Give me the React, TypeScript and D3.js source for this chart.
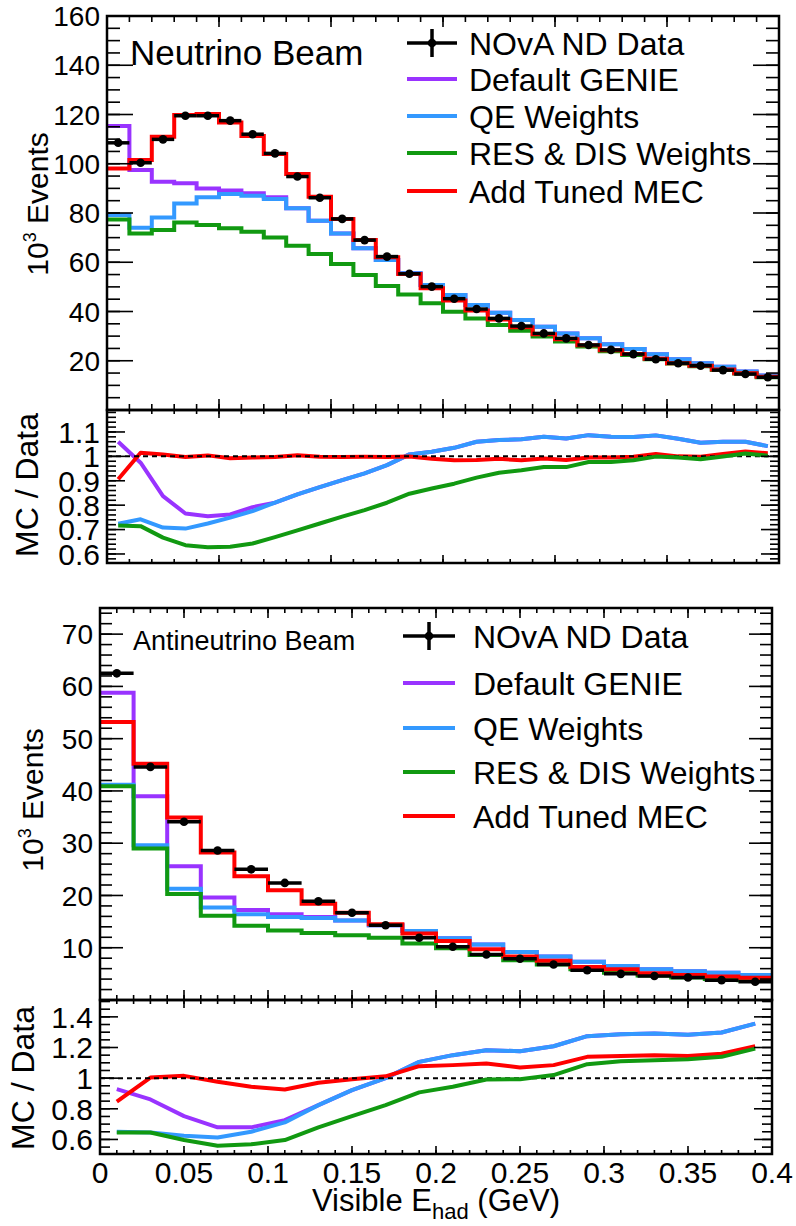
import React from "react";
import * as d3 from "d3";

const FONT = "'Liberation Sans', Arial, Helvetica, sans-serif";

// ---------- binning ----------
const X_DOMAIN: [number, number] = [0, 0.4];
const NU_NBINS = 30;
const ANU_NBINS = 20;

// ---------- Neutrino beam (10^3 events), 30 bins ----------
const nuData = [108.5, 100.4, 109.9, 119.5, 119.5, 117.5, 112.0, 104.2, 94.8, 86.2, 77.6, 69.0, 62.3, 55.3, 50.1, 45.2, 41.0, 37.2, 34.1, 31.1, 29.1, 26.4, 24.4, 22.7, 20.6, 19.0, 18.0, 16.2, 14.6, 13.3];
const nuGenie = [115.3, 97.5, 92.7, 92.1, 90.0, 89.1, 88.0, 86.4, 81.9, 76.9, 71.7, 65.7, 60.9, 55.5, 50.8, 46.7, 42.6, 39.5, 36.5, 33.8, 31.1, 29.1, 26.7, 24.8, 22.6, 20.6, 19.0, 17.6, 15.6, 14.0];
const nuQE = [79.2, 74.0, 78.2, 83.9, 86.4, 87.7, 87.0, 85.7, 81.9, 76.9, 71.7, 65.7, 60.9, 55.5, 50.8, 46.7, 42.6, 39.5, 36.5, 33.8, 31.1, 29.1, 26.7, 24.8, 22.6, 20.6, 19.0, 17.6, 15.6, 14.0];
const nuResDis = [77.4, 71.7, 73.1, 76.1, 75.1, 73.8, 72.4, 70.1, 66.7, 63.3, 59.3, 54.8, 50.4, 46.9, 43.3, 39.9, 37.2, 34.5, 32.2, 29.8, 27.8, 25.8, 23.9, 22.3, 20.6, 18.9, 17.8, 16.2, 14.8, 13.3];
const nuMEC = [98.1, 101.5, 111.0, 119.8, 120.2, 116.8, 111.3, 104.0, 95.8, 86.6, 77.6, 69.0, 62.0, 55.2, 49.4, 44.5, 40.4, 36.8, 33.6, 30.8, 28.7, 26.3, 24.3, 22.7, 20.8, 19.0, 18.0, 16.4, 14.9, 13.5];

// ---------- Neutrino beam MC / Data ----------
const nuRatioGenie = [1.06, 0.974, 0.837, 0.766, 0.755, 0.762, 0.792, 0.81, 0.844, 0.874, 0.903, 0.93, 0.964, 1.008, 1.019, 1.035, 1.06, 1.067, 1.07, 1.08, 1.073, 1.087, 1.08, 1.079, 1.086, 1.072, 1.056, 1.06, 1.06, 1.042];
const nuRatioQE = [0.724, 0.742, 0.708, 0.704, 0.725, 0.749, 0.776, 0.81, 0.844, 0.874, 0.903, 0.93, 0.964, 1.008, 1.019, 1.035, 1.06, 1.067, 1.07, 1.08, 1.073, 1.087, 1.08, 1.079, 1.086, 1.072, 1.056, 1.06, 1.06, 1.042];
const nuRatioResDis = [0.717, 0.714, 0.667, 0.636, 0.628, 0.63, 0.643, 0.669, 0.697, 0.725, 0.753, 0.78, 0.81, 0.847, 0.868, 0.888, 0.913, 0.933, 0.943, 0.956, 0.956, 0.977, 0.977, 0.984, 0.999, 0.995, 0.988, 0.999, 1.012, 1.003];
const nuRatioMEC = [0.906, 1.015, 1.008, 0.997, 1.004, 0.992, 0.995, 0.997, 1.005, 0.998, 0.997, 0.998, 0.997, 0.999, 0.99, 0.984, 0.985, 0.99, 0.984, 0.991, 0.985, 0.995, 0.995, 0.998, 1.01, 1.0, 0.998, 1.01, 1.02, 1.013];

// ---------- Antineutrino beam (10^3 events), 20 bins ----------
const anuData = [62.5, 44.6, 34.1, 28.6, 25.0, 22.4, 18.9, 16.7, 14.3, 11.9, 10.2, 8.7, 7.9, 6.8, 5.7, 5.0, 4.6, 4.3, 3.8, 3.5];
const anuGenie = [58.8, 39.0, 25.6, 19.6, 17.2, 16.4, 15.9, 15.2, 14.3, 13.2, 11.8, 10.6, 9.2, 8.3, 7.3, 6.5, 5.9, 5.5, 5.2, 4.8];
const anuQE = [41.2, 29.6, 21.3, 17.7, 16.4, 15.9, 15.7, 15.2, 14.3, 13.2, 11.8, 10.6, 9.2, 8.3, 7.3, 6.5, 5.9, 5.5, 5.2, 4.8];
const anuResDis = [40.9, 29.0, 20.3, 16.1, 14.2, 13.3, 12.8, 12.4, 11.9, 10.8, 9.9, 8.6, 7.6, 6.8, 5.9, 5.2, 4.7, 4.3, 4.0, 3.8];
const anuMEC = [53.2, 45.2, 34.9, 28.2, 23.7, 21.0, 18.4, 16.7, 14.5, 12.7, 11.3, 9.7, 8.3, 7.5, 6.3, 5.9, 5.1, 4.8, 4.5, 4.25];

// ---------- Antineutrino beam MC / Data ----------
const anuRatioGenie = [0.928, 0.861, 0.752, 0.679, 0.679, 0.726, 0.824, 0.922, 1.0, 1.106, 1.15, 1.182, 1.176, 1.208, 1.274, 1.287, 1.291, 1.284, 1.298, 1.356];
const anuRatioQE = [0.65, 0.646, 0.624, 0.613, 0.65, 0.711, 0.824, 0.922, 1.0, 1.106, 1.15, 1.182, 1.176, 1.208, 1.274, 1.287, 1.291, 1.284, 1.298, 1.356];
const anuRatioResDis = [0.645, 0.645, 0.596, 0.559, 0.568, 0.596, 0.679, 0.752, 0.824, 0.907, 0.944, 0.991, 0.993, 1.02, 1.091, 1.11, 1.117, 1.124, 1.139, 1.193];
const anuRatioMEC = [0.846, 1.004, 1.015, 0.976, 0.944, 0.926, 0.97, 0.993, 1.012, 1.078, 1.085, 1.095, 1.07, 1.085, 1.139, 1.145, 1.15, 1.145, 1.16, 1.208];

// ---------- labels ----------
const legendLabels = ["NOvA ND Data", "Default GENIE", "QE Weights", "RES & DIS Weights", "Add Tuned MEC"];
const seriesKeys = ["data", "genie", "qe", "resdis", "mec"];
const COLORS: Record<string, string> = {
  data: "#000000",
  genie: "#9933ff",
  qe: "#3399ff",
  resdis: "#119911",
  mec: "#ff0000",
};

function tickValues(d0: number, d1: number, step: number) {
  const out: number[] = [];
  const k0 = Math.ceil(d0 / step - 1e-6);
  const k1 = Math.floor(d1 / step + 1e-6);
  for (let k = k0; k <= k1; k++) out.push(+(k * step).toFixed(6));
  return out;
}

const fmt = (v: number) => String(+v.toFixed(3));

type PanelSpec = {
  id: string;
  left: number; right: number; top: number; bottom: number;
  yDomain: [number, number];
  yMajor: number; yMinor: number; yMajLen: number; yMinLen: number;
  xMajor: number; xMinor: number; xMajLen: number; xMinLen: number;
  yLabels: number[];
  yLabelSize: number;
  xLabels: boolean;
};

function Axes({ s }: { s: PanelSpec }) {
  const xs = d3.scaleLinear().domain(X_DOMAIN).range([s.left, s.right]);
  const ys = d3.scaleLinear().domain(s.yDomain).range([s.bottom, s.top]);
  const xMin = tickValues(X_DOMAIN[0], X_DOMAIN[1], s.xMinor);
  const xMaj = tickValues(X_DOMAIN[0], X_DOMAIN[1], s.xMajor);
  const yMin = tickValues(s.yDomain[0], s.yDomain[1], s.yMinor);
  const yMaj = tickValues(s.yDomain[0], s.yDomain[1], s.yMajor);
  const sw = 1.6;
  return (
    <g>
      {xMin.map((v, i) => (
        <g key={"xm" + i}>
          <line x1={xs(v)} x2={xs(v)} y1={s.bottom} y2={s.bottom - s.xMinLen} stroke="#000" strokeWidth={sw} />
          <line x1={xs(v)} x2={xs(v)} y1={s.top} y2={s.top + s.xMinLen} stroke="#000" strokeWidth={sw} />
        </g>
      ))}
      {xMaj.map((v, i) => (
        <g key={"xM" + i}>
          <line x1={xs(v)} x2={xs(v)} y1={s.bottom} y2={s.bottom - s.xMajLen} stroke="#000" strokeWidth={sw} />
          <line x1={xs(v)} x2={xs(v)} y1={s.top} y2={s.top + s.xMajLen} stroke="#000" strokeWidth={sw} />
        </g>
      ))}
      {yMin.map((v, i) => (
        <g key={"ym" + i}>
          <line x1={s.left} x2={s.left + s.yMinLen} y1={ys(v)} y2={ys(v)} stroke="#000" strokeWidth={sw} />
          <line x1={s.right} x2={s.right - s.yMinLen} y1={ys(v)} y2={ys(v)} stroke="#000" strokeWidth={sw} />
        </g>
      ))}
      {yMaj.map((v, i) => (
        <g key={"yM" + i}>
          <line x1={s.left} x2={s.left + s.yMajLen} y1={ys(v)} y2={ys(v)} stroke="#000" strokeWidth={sw} />
          <line x1={s.right} x2={s.right - s.yMajLen} y1={ys(v)} y2={ys(v)} stroke="#000" strokeWidth={sw} />
        </g>
      ))}
      {s.yLabels.map((v, i) => (
        <text key={"yl" + i} x={s.left - 7} y={ys(v)} dy="0.36em" textAnchor="end" fontSize={s.yLabelSize} fontFamily={FONT} fill="#000">
          {fmt(v)}
        </text>
      ))}
      {s.xLabels &&
        tickValues(X_DOMAIN[0], X_DOMAIN[1], 0.05).map((v, i) => (
          <text key={"xl" + i} x={xs(v)} y={s.bottom + 29} textAnchor="middle" fontSize={30} fontFamily={FONT} fill="#000">
            {fmt(v)}
          </text>
        ))}
      <rect x={s.left} y={s.top} width={s.right - s.left} height={s.bottom - s.top} fill="none" stroke="#000" strokeWidth={2.5} />
    </g>
  );
}

function HistPanel({ s, nbins, series, data }: { s: PanelSpec; nbins: number; series: { key: string; values: number[] }[]; data: number[] }) {
  const xs = d3.scaleLinear().domain(X_DOMAIN).range([s.left, s.right]);
  const ys = d3.scaleLinear().domain(s.yDomain).range([s.bottom, s.top]);
  const width = (X_DOMAIN[1] - X_DOMAIN[0]) / nbins;
  const edges = d3.range(nbins + 1).map((i) => X_DOMAIN[0] + i * width);
  const step = d3
    .line<[number, number]>()
    .x((d) => xs(d[0]))
    .y((d) => ys(d[1]))
    .curve(d3.curveStepAfter);
  const mkPts = (vals: number[]) => {
    const pts: [number, number][] = vals.map((v, i) => [edges[i], v]);
    pts.push([edges[nbins], vals[nbins - 1]]);
    return pts;
  };
  return (
    <g>
      <defs>
        <clipPath id={"clip-" + s.id}>
          <rect x={s.left} y={s.top} width={s.right - s.left} height={s.bottom - s.top} />
        </clipPath>
      </defs>
      <g clipPath={`url(#clip-${s.id})`}>
        {series.map((sr) => (
          <path key={sr.key} d={step(mkPts(sr.values)) || ""} fill="none" stroke={COLORS[sr.key]} strokeWidth={4} />
        ))}
        {data.map((v, i) => (
          <g key={"d" + i}>
            <line x1={xs(edges[i])} x2={xs(edges[i + 1])} y1={ys(v)} y2={ys(v)} stroke="#000" strokeWidth={3.5} />
            <circle cx={xs(edges[i] + width / 2)} cy={ys(v)} r={4.3} fill="#000" />
          </g>
        ))}
      </g>
      <Axes s={s} />
    </g>
  );
}

function RatioPanel({ s, nbins, series }: { s: PanelSpec; nbins: number; series: { key: string; values: number[] }[] }) {
  const xs = d3.scaleLinear().domain(X_DOMAIN).range([s.left, s.right]);
  const ys = d3.scaleLinear().domain(s.yDomain).range([s.bottom, s.top]);
  const width = (X_DOMAIN[1] - X_DOMAIN[0]) / nbins;
  const line = d3
    .line<number>()
    .x((_, i) => xs(X_DOMAIN[0] + (i + 0.5) * width))
    .y((d) => ys(d));
  const byKey = (k: string) => series.find((sr) => sr.key === k)!;
  const draw = (k: string) => (
    <path key={k} d={line(byKey(k).values) || ""} fill="none" stroke={COLORS[k]} strokeWidth={4} strokeLinejoin="round" />
  );
  return (
    <g>
      <defs>
        <clipPath id={"clip-" + s.id}>
          <rect x={s.left} y={s.top} width={s.right - s.left} height={s.bottom - s.top} />
        </clipPath>
      </defs>
      <g clipPath={`url(#clip-${s.id})`}>
        {draw("genie")}
        {draw("qe")}
        {draw("mec")}
        <line x1={s.left} x2={s.right} y1={ys(1)} y2={ys(1)} stroke="#000" strokeWidth={2} strokeDasharray="5 4" />
        {draw("resdis")}
      </g>
      <Axes s={s} />
    </g>
  );
}

function Legend({ x0, x1, tx, rows, fontSize }: { x0: number; x1: number; tx: number; rows: number[]; fontSize: number }) {
  return (
    <g>
      {legendLabels.map((lab, i) => {
        const cy = rows[i];
        const key = seriesKeys[i];
        return (
          <g key={lab}>
            {key === "data" ? (
              <g>
                <line x1={x0} x2={x1} y1={cy} y2={cy} stroke="#000" strokeWidth={3.5} />
                <line x1={(x0 + x1) / 2} x2={(x0 + x1) / 2} y1={cy - 14} y2={cy + 14} stroke="#000" strokeWidth={3.5} />
                <circle cx={(x0 + x1) / 2} cy={cy} r={4.3} fill="#000" />
              </g>
            ) : (
              <line x1={x0} x2={x1} y1={cy} y2={cy} stroke={COLORS[key]} strokeWidth={4} />
            )}
            <text x={tx} y={cy} dy="0.36em" fontSize={fontSize} fontFamily={FONT} fill="#000">
              {lab}
            </text>
          </g>
        );
      })}
    </g>
  );
}

function YTitle({ x, y, size, children }: { x: number; y: number; size: number; children: React.ReactNode }) {
  return (
    <text transform={`translate(${x},${y}) rotate(-90)`} textAnchor="middle" fontSize={size} fontFamily={FONT} fill="#000">
      {children}
    </text>
  );
}

export default function App() {
  const nuMain: PanelSpec = {
    id: "numain", left: 107, right: 779, top: 16, bottom: 410,
    yDomain: [0, 160], yMajor: 20, yMinor: 5, yMajLen: 26, yMinLen: 13,
    xMajor: 0.4 / 6, xMinor: 0.4 / 30, xMajLen: 11, xMinLen: 6,
    yLabels: [20, 40, 60, 80, 100, 120, 140, 160], yLabelSize: 28, xLabels: false,
  };
  const nuRatio: PanelSpec = {
    id: "nuratio", left: 107, right: 779, top: 410, bottom: 563,
    yDomain: [0.563, 1.19], yMajor: 0.1, yMinor: 0.02, yMajLen: 18, yMinLen: 9,
    xMajor: 0.4 / 6, xMinor: 0.4 / 30, xMajLen: 8, xMinLen: 4,
    yLabels: [0.6, 0.7, 0.8, 0.9, 1, 1.1], yLabelSize: 30, xLabels: false,
  };
  const anuMain: PanelSpec = {
    id: "anumain", left: 100, right: 772, top: 608, bottom: 1000,
    yDomain: [0, 75], yMajor: 10, yMinor: 2, yMajLen: 23, yMinLen: 12,
    xMajor: 0.05, xMinor: 0.01, xMajLen: 10, xMinLen: 5,
    yLabels: [10, 20, 30, 40, 50, 60, 70], yLabelSize: 28, xLabels: false,
  };
  const anuRatio: PanelSpec = {
    id: "anuratio", left: 100, right: 772, top: 1000, bottom: 1154,
    yDomain: [0.505, 1.51], yMajor: 0.2, yMinor: 0.05, yMajLen: 18, yMinLen: 10,
    xMajor: 0.05, xMinor: 0.01, xMajLen: 8, xMinLen: 4,
    yLabels: [0.6, 0.8, 1, 1.2, 1.4], yLabelSize: 30, xLabels: true,
  };

  return (
    <svg width={796} height={1226} viewBox="0 0 796 1226" style={{ position: "absolute", left: 0, top: 0, background: "#fff" }}>
      <rect x={0} y={0} width={796} height={1226} fill="#fff" />
      <HistPanel
        s={nuMain}
        nbins={NU_NBINS}
        data={nuData}
        series={[
          { key: "genie", values: nuGenie },
          { key: "qe", values: nuQE },
          { key: "resdis", values: nuResDis },
          { key: "mec", values: nuMEC },
        ]}
      />
      <RatioPanel
        s={nuRatio}
        nbins={NU_NBINS}
        series={[
          { key: "genie", values: nuRatioGenie },
          { key: "qe", values: nuRatioQE },
          { key: "resdis", values: nuRatioResDis },
          { key: "mec", values: nuRatioMEC },
        ]}
      />
      <HistPanel
        s={anuMain}
        nbins={ANU_NBINS}
        data={anuData}
        series={[
          { key: "genie", values: anuGenie },
          { key: "qe", values: anuQE },
          { key: "resdis", values: anuResDis },
          { key: "mec", values: anuMEC },
        ]}
      />
      <RatioPanel
        s={anuRatio}
        nbins={ANU_NBINS}
        series={[
          { key: "genie", values: anuRatioGenie },
          { key: "qe", values: anuRatioQE },
          { key: "resdis", values: anuRatioResDis },
          { key: "mec", values: anuRatioMEC },
        ]}
      />

      <text x={130} y={65} fontSize={35} fontFamily={FONT} fill="#000">Neutrino Beam</text>
      <text x={133} y={650} fontSize={27} fontFamily={FONT} fill="#000">Antineutrino Beam</text>

      <Legend x0={407} x1={457} tx={469} rows={[43, 79, 116, 153, 191]} fontSize={32} />
      <Legend x0={403} x1={455} tx={473} rows={[636, 683, 728, 772, 816]} fontSize={32} />

      <YTitle x={48} y={204} size={30}>
        10<tspan fontSize={18} dy={-12}>3</tspan>
        <tspan dy={12}> Events</tspan>
      </YTitle>
      <YTitle x={43} y={800} size={30}>
        10<tspan fontSize={18} dy={-12}>3</tspan>
        <tspan dy={12}> Events</tspan>
      </YTitle>
      <YTitle x={38} y={485} size={32}>MC / Data</YTitle>
      <YTitle x={34} y={1078} size={32}>MC / Data</YTitle>

      <text x={436} y={1211} textAnchor="middle" fontSize={31} fontFamily={FONT} fill="#000">
        Visible E<tspan fontSize={22} dy={8}>had</tspan>
        <tspan dy={-8}> (GeV)</tspan>
      </text>
    </svg>
  );
}
